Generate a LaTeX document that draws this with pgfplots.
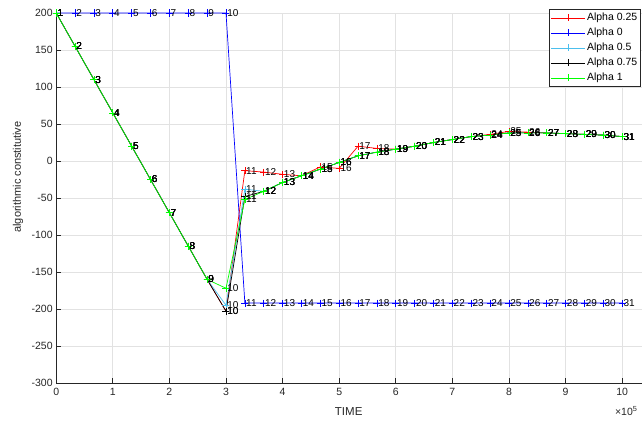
\documentclass[border=0pt]{standalone}
\usepackage{fontspec}
\setmainfont{Liberation Sans}
\usepackage{pgfplots}
\usepackage{pgfplotstable}
\pgfplotsset{compat=1.18}

\definecolor{axgray}{RGB}{38,38,38}
\definecolor{gridgray}{RGB}{226,226,226}
\definecolor{mcyan}{rgb}{0.30,0.75,0.93}

% n = point number, x = time, one column per alpha
\pgfplotstableread{
n  x       a25   a0    a50   a75   a100
1  0       200   200   200   200   200
2  33333   155   200   155   155   155
3  66667   110   200   110   110   110
4  100000  65    200   65    65    65
5  133333  20    200   20    20    20
6  166667  -25   200   -25   -25   -25
7  200000  -70   200   -70   -70   -70
8  233333  -115  200   -115  -115  -115
9  266667  -160  200   -160  -160  -160
10 300000  -203  200   -195  -203  -172
11 333333  -13   -192  -38   -48   -52
12 366667  -15   -192  -41   -41   -41
13 400000  -18   -192  -29   -29   -29
14 433333  -20   -192  -20   -20   -20
15 466667  -8    -192  -11   -11   -11
16 500000  -10   -192  -2    -2    -2
17 533333  20    -192  7     7     7
18 566667  17    -192  12    12    12
19 600000  16    -192  16    16    16
20 633333  20    -192  20    20    20
21 666667  25    -192  25    25    25
22 700000  29    -192  29    29    29
23 733333  33    -192  33    33    33
24 766667  36    -192  35    35    35
25 800000  40    -192  38    38    38
26 833333  39    -192  38    38    38
27 866667  38    -192  38    38    38
28 900000  37    -192  37    37    37
29 933333  36    -192  36    36    36
30 966667  35    -192  35    35    35
31 1000000 33    -192  33    33    33
}\alphadata

\pgfplotsset{
  numbered/.style={
    line width=0.7pt, mark=+, mark size=3.5pt, mark options={solid},
    nodes near coords, point meta=explicit symbolic,
    every node near coord/.style={anchor=west, inner xsep=1pt, inner ysep=0pt,
      text=black, font=\fontsize{10}{12}\selectfont},
  },
}

\begin{document}
\begin{tikzpicture}[x=1pt,y=1pt]
\useasboundingbox (0,0) rectangle (642,423);
\begin{axis}[
  at={(56.2pt,40pt)}, anchor=south west,
  width=585.8pt, height=370pt, scale only axis,
  xmin=0, xmax=1035000, ymin=-300, ymax=200,
  axis x line=bottom, axis y line=left,
  axis line style={-, axgray, line width=0.6pt},
  tick align=inside, major tick length=5pt,
  tick style={axgray, line width=0.6pt},
  grid=major, grid style={gridgray, line width=0.6pt},
  scaled x ticks=false,
  xtick={0,100000,200000,300000,400000,500000,600000,700000,800000,900000,1000000},
  xticklabels={0,1,2,3,4,5,6,7,8,9,10},
  ytick={-300,-250,-200,-150,-100,-50,0,50,100,150,200},
  yticklabels={-300,-250,-200,-150,-100,-50,0,50,100,150,200},
  ticklabel style={font=\fontsize{10.5}{12}\selectfont, text=axgray},
  xticklabel style={yshift=-2pt},
  clip=false,
  legend style={at={(0.9983,1.01)}, anchor=north east, draw=axgray,
    fill=white, line width=0.6pt, font=\fontsize{10.5}{12}\selectfont,
    inner xsep=2pt, inner ysep=1.5pt, row sep=1.5pt,
    nodes={inner sep=1.5pt, text height=8pt, text depth=2.5pt}},
  legend cell align=left,
  legend image code/.code={
    \draw[mark repeat=2, mark phase=2] plot coordinates {(0pt,0pt) (17pt,0pt) (34pt,0pt)};
  },
]
\addplot[numbered, red] table[x=x, y=a25, meta=n] {\alphadata};
\addlegendentry{Alpha 0.25}
\addplot[numbered, blue] table[x=x, y=a0, meta=n] {\alphadata};
\addlegendentry{Alpha 0}
\addplot[numbered, mcyan] table[x=x, y=a50, meta=n] {\alphadata};
\addlegendentry{Alpha 0.5}
\addplot[numbered, black] table[x=x, y=a75, meta=n] {\alphadata};
\addlegendentry{Alpha 0.75}
\addplot[numbered, green] table[x=x, y=a100, meta=n] {\alphadata};
\addlegendentry{Alpha 1}
\end{axis}
\node[text=axgray, font=\fontsize{11.5}{13}\selectfont] at (348.7,11) {TIME};
\node[text=axgray, font=\fontsize{11}{13}\selectfont, rotate=90] at (18,246) {algorithmic constitutive};
\node[text=axgray, anchor=east, font=\fontsize{10.5}{12}\selectfont] at (641,12) {×10\textsuperscript{5}};
\end{tikzpicture}
\end{document}
